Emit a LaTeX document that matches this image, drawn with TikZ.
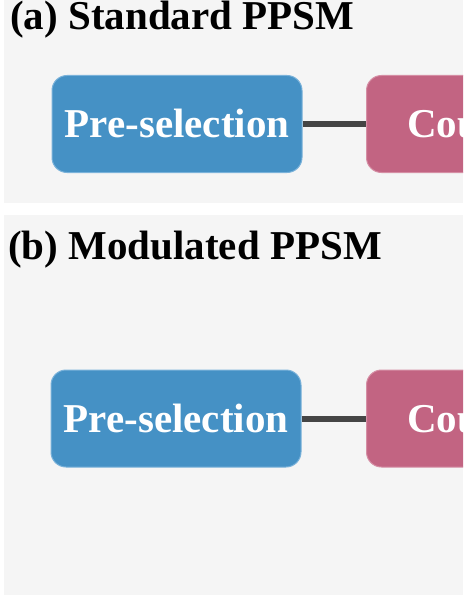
\documentclass[tikz,border=0pt]{standalone}
\usepackage{fontspec}
\setmainfont{Liberation Serif}
\definecolor{bgA}{HTML}{F5F5F5}
\definecolor{boxblue}{HTML}{4591C5}
\definecolor{boxblueedge}{HTML}{7AB2DA}
\definecolor{boxpink}{HTML}{C26482}
\definecolor{boxpinkedge}{HTML}{D58EA4}
\definecolor{linkgray}{HTML}{454545}
\tikzset{
  panel/.style={draw=none, fill=bgA},
  stagebox/.style={rounded corners=15pt, line width=1pt, inner sep=0pt,
    minimum height=97pt, text=white,
    font=\fontsize{41}{41}\selectfont\bfseries, text height=27pt, text depth=0pt},
  bluebox/.style={stagebox, fill=boxblue, draw=boxblueedge, minimum width=250pt},
  pinkbox/.style={stagebox, fill=boxpink, draw=boxpinkedge, minimum width=250pt},
  boxlabel/.style={anchor=base west, inner sep=0pt, text=white, font=\fontsize{41}{41}\selectfont\bfseries},
  title/.style={anchor=base west, inner sep=0pt, font=\fontsize{41}{41}\selectfont\bfseries},
  link/.style={draw=linkgray, line width=6pt}
}
\begin{document}
\begin{tikzpicture}[x=1pt, y=-1pt]
\useasboundingbox (0,0) rectangle (463,599);
\clip (0,0) rectangle (463,599);
\fill[white] (0,0) rectangle (463,599);
% panels
\fill[panel] (4,0) rectangle (463,203);
\fill[panel] (4,215) rectangle (463,595);
% panel (a)
\node[title] (ta) at (10,29.5) {(a) Standard PPSM};
\node[bluebox] (preA) at (177,124) {Pre-selection};
\node[pinkbox, anchor=west] (couA) at (366,124) {};
\node[boxlabel] (couAt) at (407,137.5) {Cou};
\draw[link] (preA.east) -- (couA.west);
% panel (b)
\node[title] (tb) at (8,259) {(b) Modulated PPSM};
\node[bluebox] (preB) at (176,418.5) {Pre-selection};
\node[pinkbox, anchor=west] (couB) at (366,418.5) {};
\node[boxlabel] (couBt) at (407,432) {Cou};
\draw[link] (preB.east) -- (couB.west);
\end{tikzpicture}
\end{document}
